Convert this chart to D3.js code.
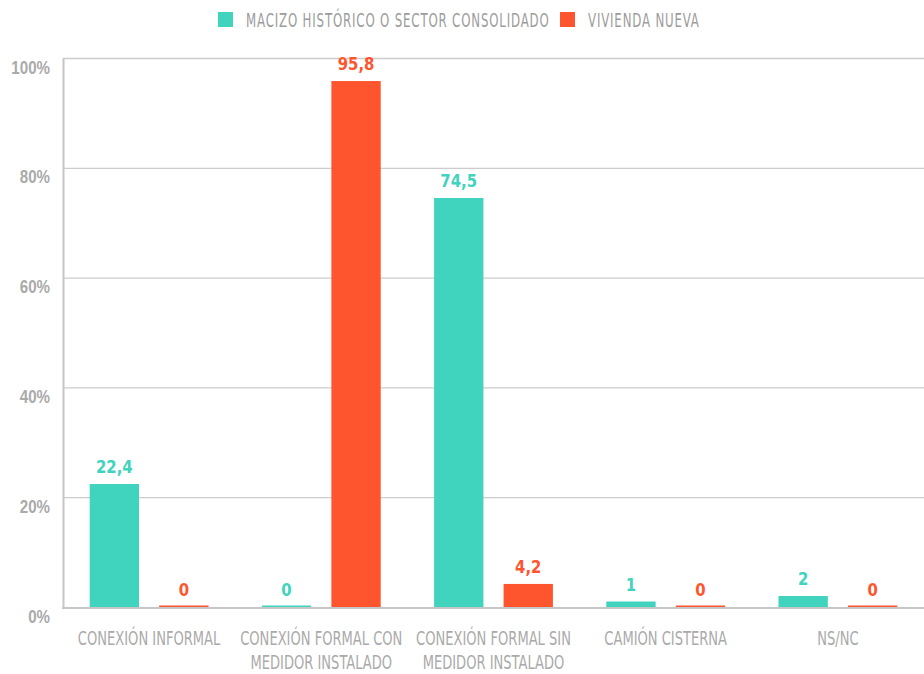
<!DOCTYPE html>
<html>
<head>
<meta charset="utf-8">
<script src="https://cdn.jsdelivr.net/npm/d3@7"></script>
<style>
  html, body { margin: 0; padding: 0; background: #fff; }
  svg { display: block; font-family: "DejaVu Sans Condensed", "DejaVu Sans", sans-serif; }
</style>
</head>
<body>
<svg id="chart" width="924" height="674"></svg>
<script>
// Tipo de abastecimiento de agua, % de viviendas por tipo de sector
const categories = [
  ["CONEXIÓN INFORMAL"],
  ["CONEXIÓN FORMAL CON", "MEDIDOR INSTALADO"],
  ["CONEXIÓN FORMAL SIN", "MEDIDOR INSTALADO"],
  ["CAMIÓN CISTERNA"],
  ["NS/NC"]
];
const seriesNames = ["MACIZO HISTÓRICO O SECTOR CONSOLIDADO", "VIVIENDA NUEVA"];
const macizo = [22.4, 0, 74.5, 1, 2];
const viviendaNueva = [0, 95.8, 4.2, 0, 0];
const yTicks = [0, 20, 40, 60, 80, 100];
const colors = ["#40d3be", "#ff552f"];

const series = [macizo, viviendaNueva];
const svg = d3.select("#chart");
const margin = { top: 58, right: 0, bottom: 67, left: 63 };
const width = 924, height = 674;

// Squeeze text horizontally around its anchor point for a condensed look
function condense(sel, f) {
  sel.each(function () {
    const x = +this.getAttribute("x") || 0;
    d3.select(this).attr("transform", `translate(${x},0) scale(${f},1) translate(${-x},0)`);
  });
}

const x0 = d3.scaleBand()
  .domain(d3.range(categories.length))
  .range([margin.left, width - margin.right])
  .paddingInner(0.31)
  .paddingOuter(0.155);
const x1 = d3.scaleBand()
  .domain(d3.range(series.length))
  .range([0, x0.bandwidth()])
  .paddingInner(0.29);
const y = d3.scaleLinear().domain([0, 100]).range([height - margin.bottom, margin.top]);

// Gridlines
svg.append("g")
  .selectAll("line")
  .data(yTicks.filter(t => t > 0))
  .join("line")
  .attr("x1", margin.left).attr("x2", width)
  .attr("y1", d => y(d) + 0.5).attr("y2", d => y(d) + 0.5)
  .attr("stroke", "#cccccc").attr("stroke-width", 1.3);

// Y axis
const yAxis = svg.append("g")
  .attr("transform", `translate(${margin.left},0)`)
  .call(d3.axisLeft(y).tickValues(yTicks).tickFormat(d => d + "%").tickSize(0).tickPadding(13));
yAxis.select(".domain").attr("stroke", "#c6c6c6").attr("stroke-width", 2);
yAxis.selectAll("text")
  .attr("dy", 15)
  .attr("fill", "#aaaaaa")
  .style("font-size", "18px")
  .style("font-weight", "bold")
  .call(condense, 0.84);

// Bars
const groups = svg.append("g")
  .selectAll("g")
  .data(categories.map((c, i) => i))
  .join("g")
  .attr("transform", i => `translate(${x0(i)},0)`);

groups.selectAll("rect")
  .data(i => series.map((s, k) => ({ k, v: s[i] })))
  .join("rect")
  .attr("x", d => x1(d.k))
  .attr("width", x1.bandwidth())
  .attr("y", d => Math.min(y(d.v), y(0) - 1.5))
  .attr("height", d => Math.max(y(0) - y(d.v), 1.5))
  .attr("fill", d => colors[d.k]);

groups.selectAll("text.val")
  .data(i => series.map((s, k) => ({ k, v: s[i] })))
  .join("text")
  .attr("class", "val")
  .attr("x", d => x1(d.k) + x1.bandwidth() / 2)
  .attr("y", d => Math.min(y(d.v) - 11, y(0) - 8))
  .attr("text-anchor", "middle")
  .attr("fill", d => colors[d.k])
  .style("font-size", "18px")
  .style("font-weight", "bold")
  .text(d => String(d.v).replace(".", ","))
  .call(condense, 0.92);

// X axis baseline
svg.append("line")
  .attr("x1", margin.left - 1).attr("x2", width)
  .attr("y1", y(0) + 1).attr("y2", y(0) + 1)
  .attr("stroke", "#c6c6c6").attr("stroke-width", 2);

// Category labels
const catLabels = svg.append("g")
  .selectAll("text")
  .data(categories)
  .join("text")
  .attr("x", (d, i) => x0(i) + x0.bandwidth() / 2)
  .attr("y", 645)
  .attr("text-anchor", "middle")
  .attr("fill", "#aaaaaa")
  .style("font-size", "19px");
catLabels.selectAll("tspan")
  .data(d => d)
  .join("tspan")
  .attr("x", function () { return this.parentNode.getAttribute("x"); })
  .attr("dy", (d, j) => j === 0 ? 0 : 24.5)
  .text(d => d);
catLabels.call(condense, 0.765);

// Legend
const legendX = [218, 560];
const legend = svg.append("g")
  .selectAll("g")
  .data(seriesNames)
  .join("g")
  .attr("transform", (d, i) => `translate(${legendX[i]},12)`);
legend.append("rect")
  .attr("width", 15).attr("height", 15)
  .attr("fill", (d, i) => colors[i]);
legend.append("text")
  .attr("x", 28).attr("y", 15)
  .attr("fill", "#9c9c9c")
  .style("font-size", "19px")
  .style("letter-spacing", "1.2px")
  .text(d => d)
  .call(condense, 0.69);
</script>
</body>
</html>
